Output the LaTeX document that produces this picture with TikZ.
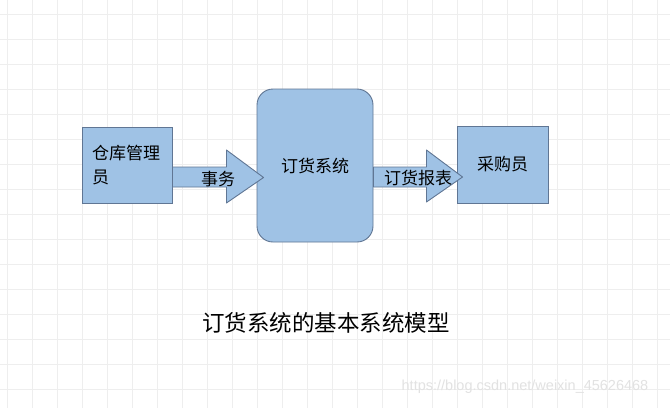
\documentclass[tikz,border=0pt]{standalone}
\usepackage{fontspec}
\setmainfont{Noto Sans CJK SC}
\newfontfamily\wmfont{Liberation Sans}
\usetikzlibrary{calc,positioning}
\definecolor{boxblue}{RGB}{159,194,229}
\definecolor{boxline}{RGB}{96,118,148}
\definecolor{gridgray}{RGB}{238,238,238}
\definecolor{wmgray}{RGB}{226,226,226}

\begin{document}
\begin{tikzpicture}[x=1pt,y=-1pt,
  box/.style={draw=boxline,fill=boxblue,line width=0.9pt,inner sep=0pt,font=\fontsize{17}{24}\selectfont},
  flow/.style={draw=boxline,fill=boxblue,line width=0.9pt,line join=round},
  lbl/.style={inner sep=0pt,font=\fontsize{17}{24}\selectfont}]
  \useasboundingbox[fill=white] (0,0) rectangle (670,408);
  % background grid
  \foreach \i in {0,...,26}{
    \draw[gridgray,line width=0.9pt] (7+25*\i,0) -- (7+25*\i,408);
  }
  \foreach \j in {0,...,15}{
    \draw[gridgray,line width=0.9pt] (0,14+25*\j) -- (670,14+25*\j);
  }
  % blocks
  \node[box,minimum width=90,minimum height=76,text width=70,align=left] (wh) at (127,165) {仓库管理\\员};
  \node[box,minimum width=116,minimum height=153,rounded corners=16] (sys) at (315,165.5) {订货系统};
  \node[box,minimum width=91,minimum height=77] (buyer) at (502.5,164.5) {采购员};
  % block arrows
  \coordinate (t1) at ($(sys.west)+(7,12)$);
  \draw[flow] ($(wh.east)+(0,2)$) -- ($(wh.east)+(54,2)$) -- ($(wh.east)+(54,-15)$)
    -- (t1) -- ($(wh.east)+(54,38)$) -- ($(wh.east)+(54,22)$) -- ($(wh.east)+(0,22)$) -- cycle;
  \coordinate (t2) at ($(buyer.west)+(6,12.5)$);
  \draw[flow] ($(sys.east)+(0,1.5)$) -- ($(sys.east)+(53,1.5)$) -- ($(sys.east)+(53,-15.5)$)
    -- (t2) -- ($(sys.east)+(53,36.5)$) -- ($(sys.east)+(53,21.5)$) -- ($(sys.east)+(0,21.5)$) -- cycle;
  \node[lbl] (deal) at (218,179) {事务};
  \node[lbl] (report) at (418,178) {订货报表};
  % caption
  \node[inner sep=0pt,font=\fontsize{22.5}{28}\selectfont] (title) at (326,323) {订货系统的基本系统模型};
  \node[inner sep=0pt,text=wmgray,font=\wmfont\fontsize{14.5}{16}\selectfont] (wm) at (525,387) {https://blog.csdn.net/weixin\_45626468};
\end{tikzpicture}
\end{document}
